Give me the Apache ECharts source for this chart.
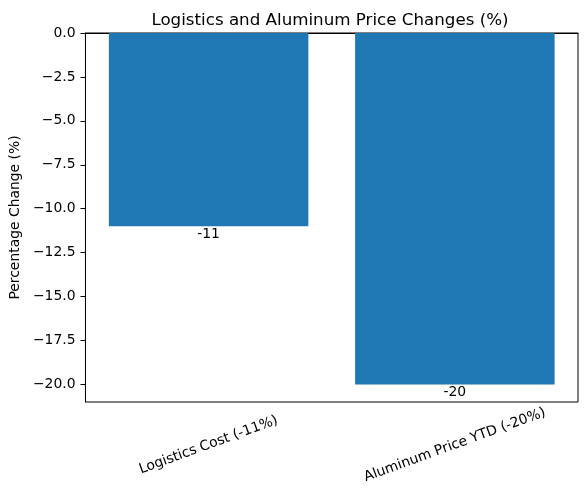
<!DOCTYPE html>
<html>
<head>
<meta charset="utf-8">
<script src="https://cdn.jsdelivr.net/npm/echarts@6/dist/echarts.min.js"></script>
<style>
  html, body { margin: 0; padding: 0; background: #fff; }
  #chart { width: 587px; height: 500px; }
</style>
</head>
<body>
<div id="chart"></div>
<script>
const categories = ["Logistics Cost (-11%)", "Aluminum Price YTD (-20%)"];
const changes = [-11, -20];
const yTicks = [0, -2.5, -5, -7.5, -10, -12.5, -15, -17.5, -20];

const FONT = "DejaVu Sans";
const FS = 13.9;

function fmtTick(v) {
    const s = Math.abs(v).toFixed(1);
    return v < 0 ? "\u2212" + s : s;
}

const chart = echarts.init(document.getElementById("chart"));

chart.setOption({
    animation: false,
    textStyle: { fontFamily: FONT },
    title: {
        text: "Logistics and Aluminum Price Changes (%)",
        left: 325,
        top: 7,
        textAlign: "center",
        textStyle: { fontFamily: FONT, fontSize: 16.7, fontWeight: "normal", color: "#000" }
    },
    grid: {
        left: 83,
        right: 9,
        top: 33,
        bottom: 98,
        show: true,
        borderColor: "#000",
        borderWidth: 1,
        backgroundColor: "transparent"
    },
    xAxis: {
        type: "category",
        data: categories,
        boundaryGap: true,
        axisLine: { lineStyle: { color: "#000", width: 1 } },
        axisTick: { alignWithLabel: true, length: 5, lineStyle: { color: "#000" } },
        axisLabel: {
            rotate: 20,
            align: "center",
            verticalAlign: "middle",
            margin: 43,
            color: "#000",
            fontSize: FS,
            fontFamily: FONT
        },
        splitLine: { show: false }
    },
    yAxis: {
        type: "value",
        min: -21,
        max: 0,
        name: "Percentage Change (%)",
        nameLocation: "middle",
        nameGap: 59,
        nameTextStyle: { color: "#000", fontSize: FS, fontFamily: FONT },
        axisLine: { show: true, lineStyle: { color: "#000", width: 1 } },
        axisTick: { show: true, length: 5, lineStyle: { color: "#000" }, customValues: yTicks },
        axisLabel: {
            color: "#000",
            fontSize: FS,
            fontFamily: FONT,
            margin: 10,
            customValues: yTicks,
            formatter: fmtTick
        },
        splitLine: { show: false }
    },
    series: [{
        type: "bar",
        data: changes,
        barCategoryGap: "19%",
        itemStyle: { color: "#1f77b4" },
        label: {
            show: true,
            position: "bottom",
            distance: 1,
            color: "#000",
            fontSize: FS,
            fontFamily: FONT,
            formatter: p => String(p.value)
        }
    }]
});
</script>
</body>
</html>
